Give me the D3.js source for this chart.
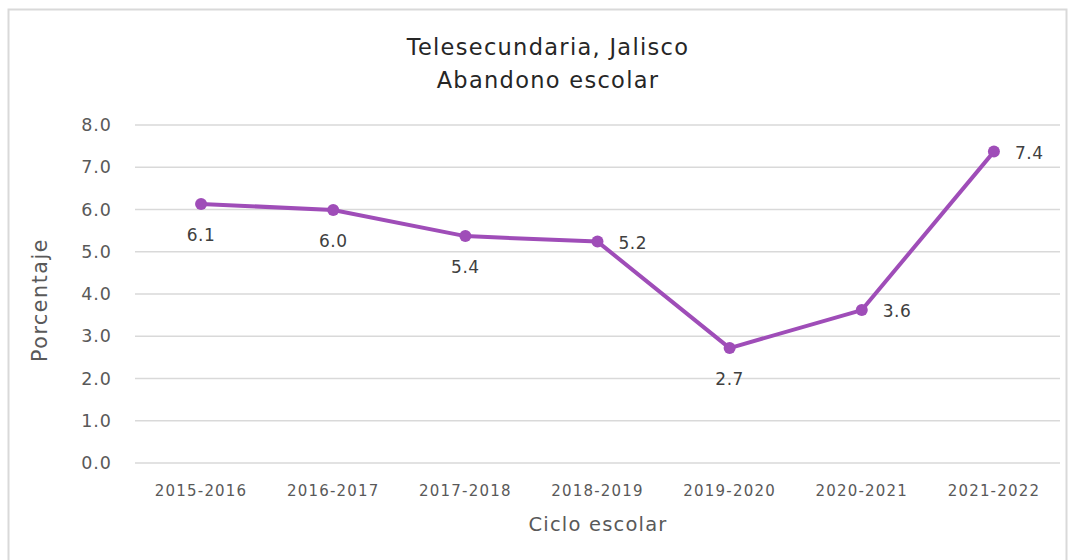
<!DOCTYPE html>
<html><head><meta charset="utf-8">
<script src="https://cdn.jsdelivr.net/npm/d3@7"></script>
<style>body{margin:0;background:#fff}svg{display:block}</style>
</head><body>
<svg id="c" width="1073" height="560"></svg>
<script>
const categories = ["2015-2016","2016-2017","2017-2018","2018-2019","2019-2020","2020-2021","2021-2022"];
const values = [6.13, 5.99, 5.37, 5.24, 2.72, 3.62, 7.37];
const labelPlacement = ["below","below","below","right","below","right","right"];
const yTicks = [0,1,2,3,4,5,6,7,8];
const titleLines = ["Telesecundaria, Jalisco","Abandono escolar"];

const svg = d3.select("#c");
const font = "'DejaVu Sans', sans-serif";
svg.append("rect").attr("x",8.5).attr("y",9.5).attr("width",1058).attr("height",560)
  .attr("fill","#fff").attr("stroke","#d9d9d9").attr("stroke-width",2);

const x = d3.scaleBand().domain(categories).range([135,1060]);
const y = d3.scaleLinear().domain([0,8]).range([463,125]);

svg.append("g").selectAll("line.grid").data(yTicks).join("line").attr("class","grid")
  .attr("x1",135).attr("x2",1060).attr("y1",d=>y(d)).attr("y2",d=>y(d))
  .attr("stroke","#d9d9d9").attr("stroke-width",1.5);

const yAxis = svg.append("g").attr("transform","translate(135,0)")
  .call(d3.axisLeft(y).tickValues(yTicks).tickFormat(d3.format(".1f")).tickSize(0).tickPadding(23));
yAxis.select(".domain").remove();
yAxis.selectAll("text").attr("font-family",font).attr("font-size",17.5).attr("letter-spacing",1).attr("fill","#595959");

const xAxis = svg.append("g").attr("transform","translate(0,463)")
  .call(d3.axisBottom(x).tickSize(0).tickPadding(22));
xAxis.select(".domain").remove();
xAxis.selectAll("text").attr("font-family",font).attr("font-size",15).attr("letter-spacing",1.2).attr("fill","#595959");

const cx = d => x(d) + x.bandwidth()/2;
const line = d3.line().x((d,i)=>cx(categories[i])).y(d=>y(d));
svg.append("path").datum(values).attr("d",line).attr("fill","none")
  .attr("stroke","#9f4db8").attr("stroke-width",4).attr("stroke-linejoin","round");
svg.selectAll("circle.pt").data(values).join("circle").attr("class","pt")
  .attr("cx",(d,i)=>cx(categories[i])).attr("cy",d=>y(d)).attr("r",6).attr("fill","#9f4db8");

svg.selectAll("text.lbl").data(values).join("text").attr("class","lbl")
  .attr("x",(d,i)=>labelPlacement[i]==="right"? cx(categories[i])+21 : cx(categories[i]))
  .attr("y",(d,i)=>labelPlacement[i]==="right"? y(d)+7 : y(d)+37)
  .attr("text-anchor",(d,i)=>labelPlacement[i]==="right"?"start":"middle")
  .attr("font-family",font).attr("font-size",17).attr("letter-spacing",0.5).attr("fill","#404040")
  .text(d=>d3.format(".1f")(d));

svg.selectAll("text.title").data(titleLines).join("text").attr("class","title")
  .attr("x",548).attr("y",(d,i)=>55+i*33).attr("text-anchor","middle")
  .attr("font-family",font).attr("font-size",22.5).attr("letter-spacing",1.3).attr("fill","#262626").text(d=>d);

svg.append("text").attr("x",598).attr("y",531).attr("text-anchor","middle")
  .attr("font-family",font).attr("font-size",19.5).attr("letter-spacing",1.2).attr("fill","#595959").text("Ciclo escolar");
svg.append("text").attr("transform","translate(47,300) rotate(-90)").attr("text-anchor","middle")
  .attr("font-family",font).attr("font-size",20.5).attr("letter-spacing",1.6).attr("fill","#595959").text("Porcentaje");
</script>
</body></html>
